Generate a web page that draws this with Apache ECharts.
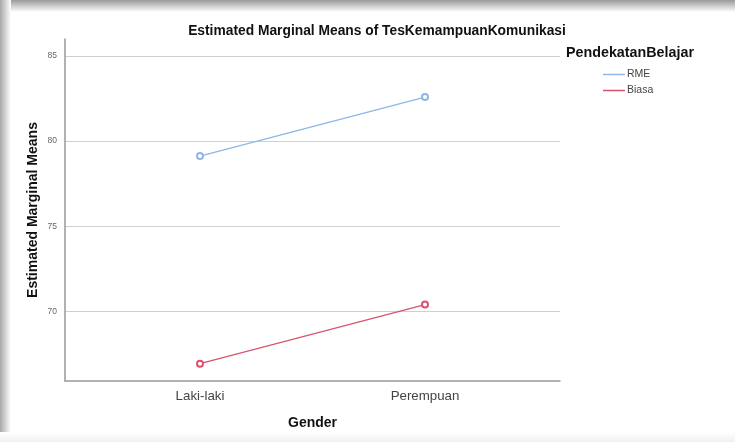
<!DOCTYPE html>
<html>
<head>
<meta charset="utf-8">
<script src="https://cdn.jsdelivr.net/npm/echarts@6/dist/echarts.min.js"></script>
<style>
html,body{margin:0;padding:0;background:#fff;}
#chart{width:735px;height:442px;}
</style>
</head>
<body>
<div id="chart"></div>
<script>
var categories = ['Laki-laki', 'Perempuan'];
var seriesNames = ['RME', 'Biasa'];
var rmeValues = [79.12, 82.59];
var biasaValues = [66.92, 70.39];
var yTicks = [70, 75, 80, 85];
var chartTitle = 'Estimated Marginal Means of TesKemampuanKomunikasi';
var legendTitle = 'PendekatanBelajar';
var yName = 'Estimated Marginal Means';
var xName = 'Gender';

var FONT = '"Liberation Sans", Arial, sans-serif';
var colors = ['#8fb6e8', '#d9536f'];

function toPoints(vals) {
  return vals.map(function (v, i) { return [i, v]; });
}

var chart = echarts.init(document.getElementById('chart'));
chart.setOption({
  backgroundColor: '#ffffff',
  animation: false,
  graphic: [
    { type: 'rect', shape: { x: 0, y: 0, width: 735, height: 12 }, silent: true, z: -10,
      style: { fill: new echarts.graphic.LinearGradient(0, 0, 0, 1, [
        { offset: 0, color: '#9a9a9a' }, { offset: 1, color: '#ffffff' }]) } },
    { type: 'rect', shape: { x: 0, y: 0, width: 11, height: 442 }, silent: true, z: -9,
      style: { fill: new echarts.graphic.LinearGradient(0, 0, 1, 0, [
        { offset: 0, color: '#a8a8a8' }, { offset: 1, color: '#ffffff' }]) } },
    { type: 'rect', shape: { x: 0, y: 432, width: 735, height: 10 }, silent: true, z: -9,
      style: { fill: new echarts.graphic.LinearGradient(0, 0, 0, 1, [
        { offset: 0, color: '#ffffff' }, { offset: 1, color: '#f0f0f0' }]) } }
  ],
  title: [
    { text: chartTitle, left: 372, top: 19, textAlign: 'center',
      textStyle: { fontFamily: FONT, fontSize: 13.8, fontWeight: 'bold', color: '#111' } },
    { text: legendTitle, left: 561, top: 41,
      textStyle: { fontFamily: FONT, fontSize: 14.3, fontWeight: 'bold', color: '#111' } }
  ],
  legend: {
    data: seriesNames,
    orient: 'vertical',
    left: 598,
    top: 64,
    itemGap: 5,
    itemWidth: 22,
    itemHeight: 1.5,
    icon: 'rect',
    textStyle: { fontFamily: FONT, fontSize: 10.5, color: '#444', padding: [0, 0, 0, -3] }
  },
  grid: { left: 65, right: 175, top: 39, bottom: 61 },
  xAxis: {
    type: 'value',
    min: -0.6,
    max: 1.6,
    name: xName,
    nameLocation: 'middle',
    nameGap: 35,
    nameMoveOverlap: false,
    nameTextStyle: { fontFamily: FONT, fontSize: 14, fontWeight: 'bold', color: '#111' },
    axisLine: { show: true, onZero: false, lineStyle: { color: '#999', width: 1.5 } },
    axisTick: { show: false, customValues: [0, 1] },
    splitLine: { show: false },
    axisLabel: {
      customValues: [0, 1],
      margin: 9,
      fontFamily: FONT, fontSize: 13.3, color: '#444',
      formatter: function (v) { return categories[Math.round(v)]; }
    }
  },
  yAxis: {
    type: 'value',
    min: 65.9,
    max: 86,
    name: yName,
    nameLocation: 'middle',
    nameGap: 25,
    nameMoveOverlap: false,
    nameTextStyle: { fontFamily: FONT, fontSize: 14, fontWeight: 'bold', color: '#111' },
    axisLine: { show: true, onZero: false, lineStyle: { color: '#999', width: 1.5 } },
    axisTick: { show: false, customValues: yTicks },
    axisLabel: { customValues: yTicks, margin: 8, fontFamily: FONT, fontSize: 8.5, color: '#666' },
    splitLine: { show: true, lineStyle: { color: '#cfcfcf', width: 1 } }
  },
  series: [
    { name: seriesNames[0], type: 'line', data: toPoints(rmeValues),
      symbol: 'emptyCircle', symbolSize: 6, color: colors[0],
      lineStyle: { width: 1.3, color: colors[0] }, itemStyle: { color: colors[0], borderWidth: 1.3 } },
    { name: seriesNames[1], type: 'line', data: toPoints(biasaValues),
      symbol: 'emptyCircle', symbolSize: 6, color: colors[1],
      lineStyle: { width: 1.3, color: colors[1] }, itemStyle: { color: colors[1], borderWidth: 1.3 } }
  ]
});
</script>
</body>
</html>
